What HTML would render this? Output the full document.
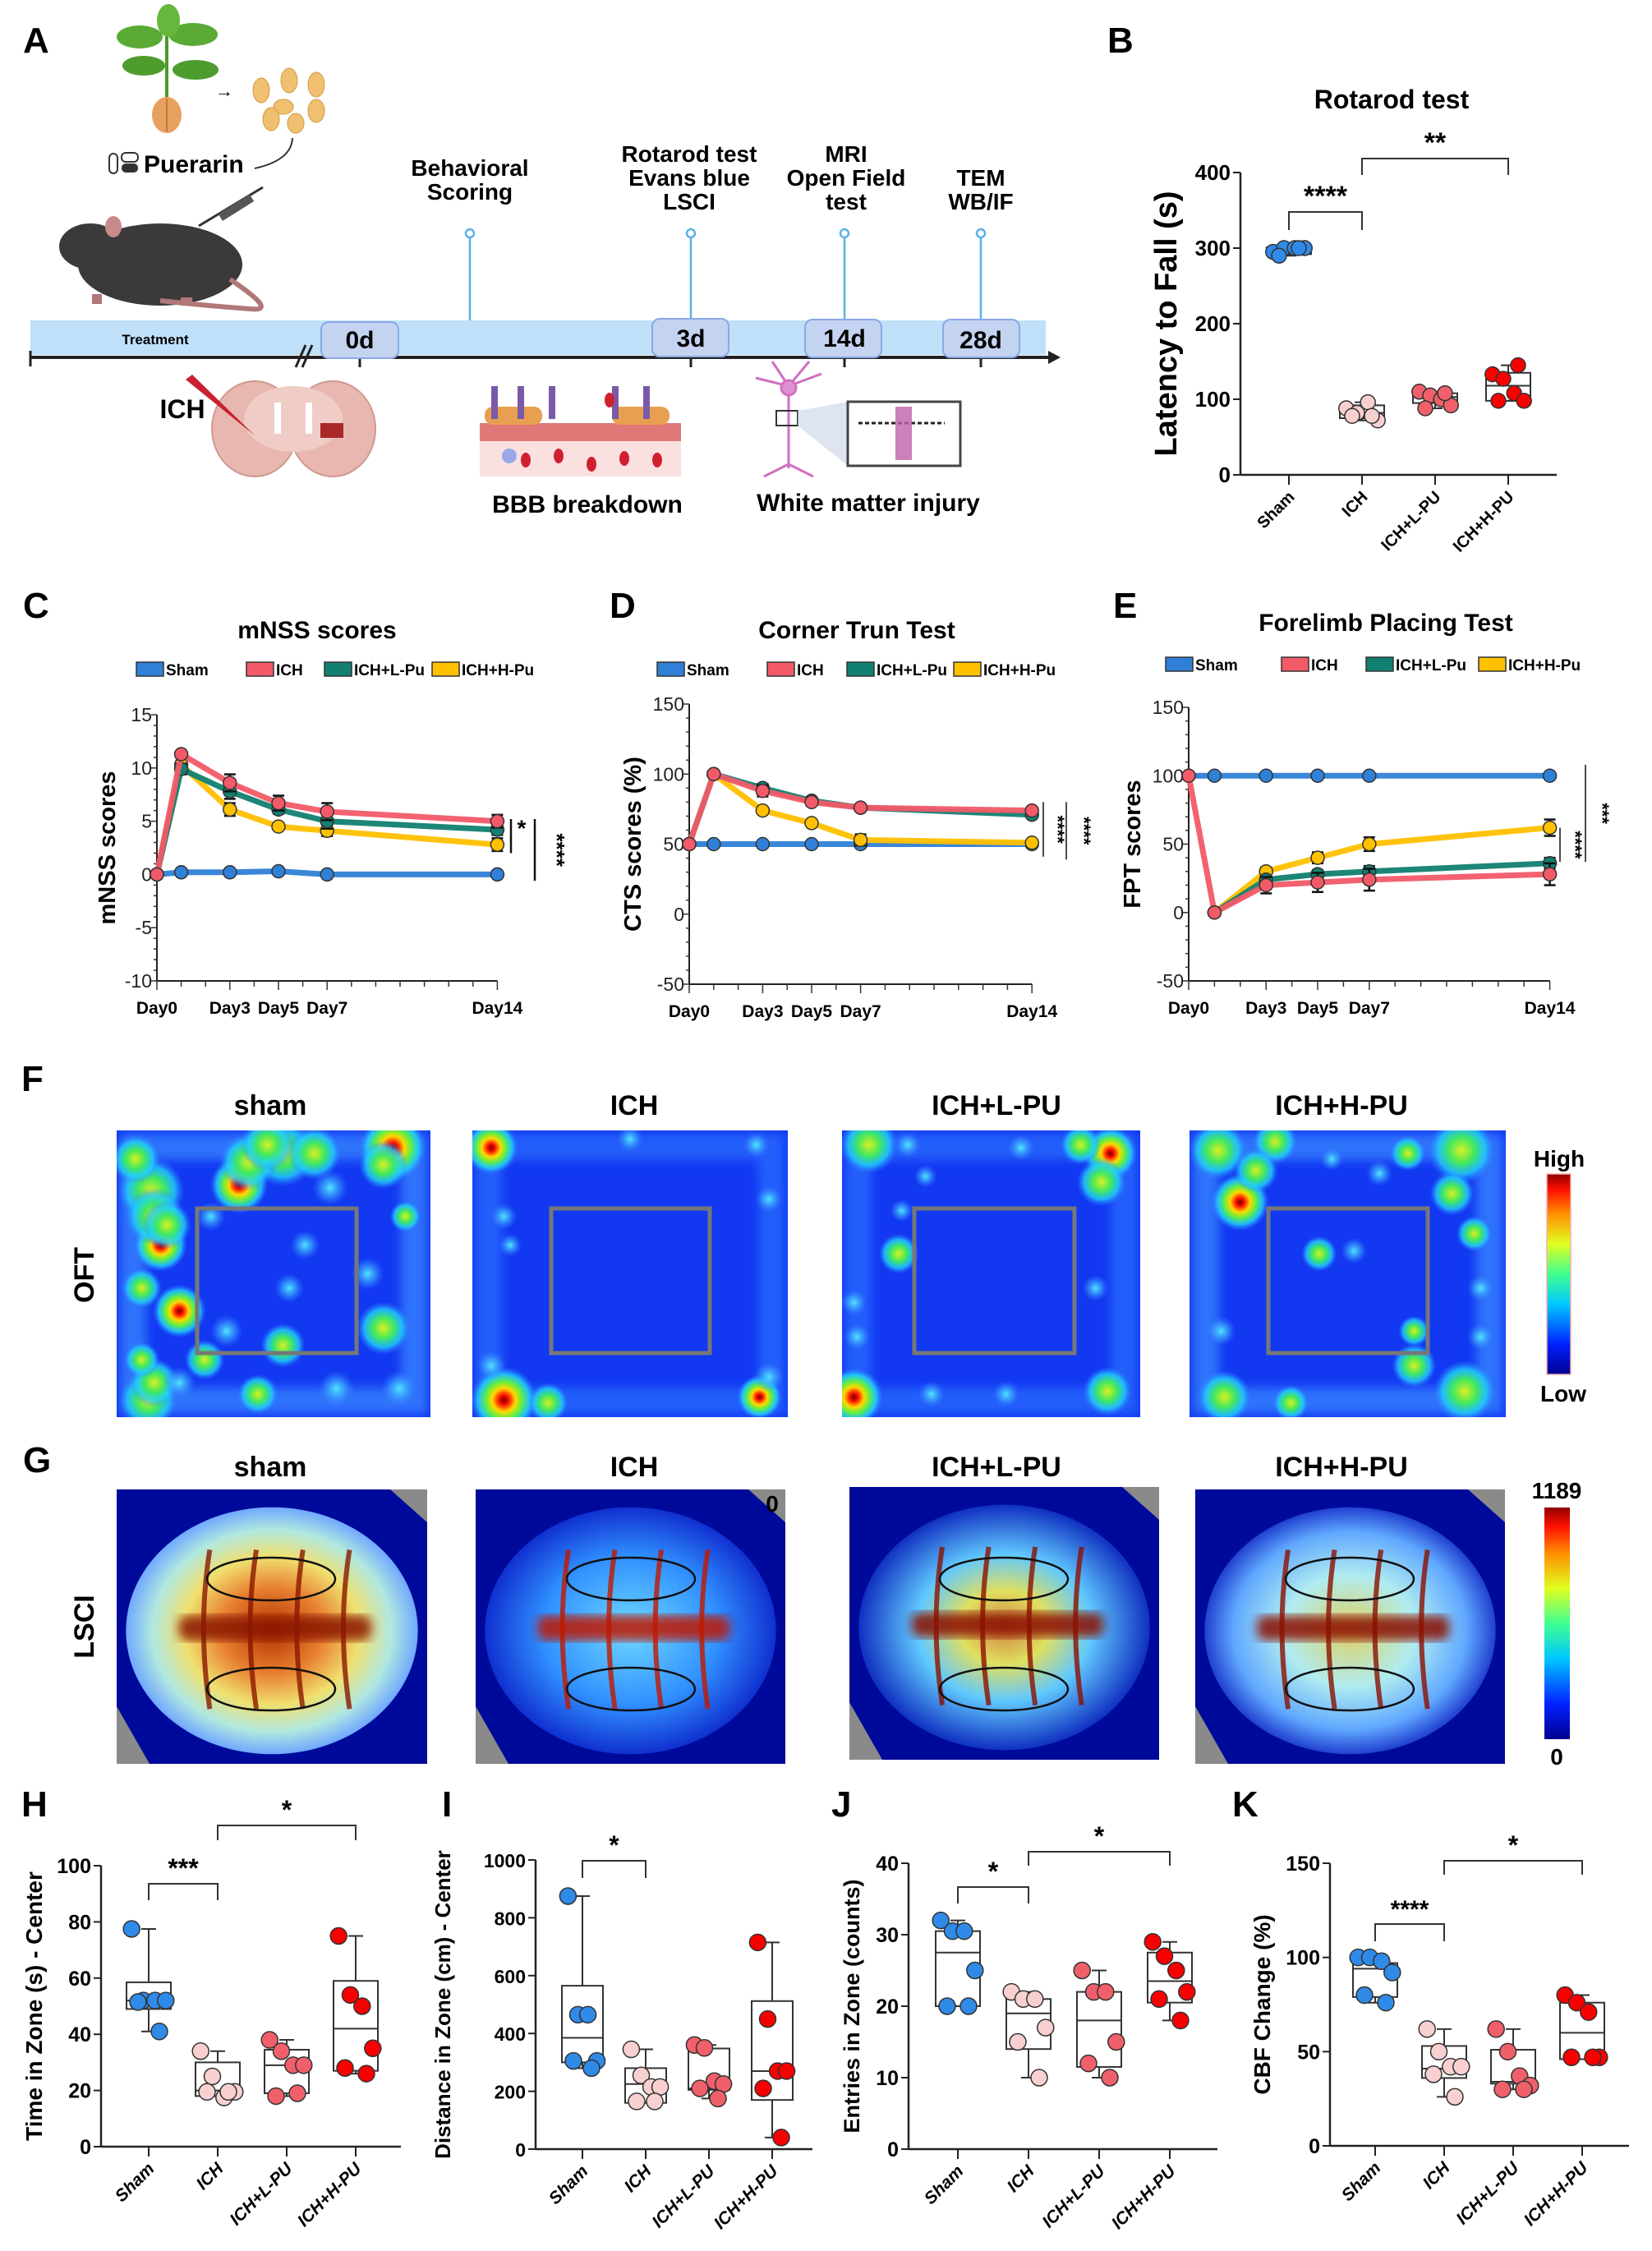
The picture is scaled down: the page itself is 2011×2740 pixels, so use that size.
<!DOCTYPE html>
<html><head><meta charset="utf-8"><title>Puerarin ICH figure</title>
<style>
html,body{margin:0;padding:0;background:#fff;}
svg{display:block;}
.lbl{font-family:"Liberation Sans",Arial,sans-serif;font-weight:bold;font-size:44px;fill:#000;}
.nar{font-family:"Liberation Sans Narrow","Liberation Sans",sans-serif;font-weight:bold;fill:#000;}
.b{font-family:"Liberation Sans",Arial,sans-serif;font-weight:bold;fill:#000;}
</style></head>
<body>
<svg id="fig" xmlns="http://www.w3.org/2000/svg" width="2011" height="2740" viewBox="0 0 2011 2740">
<defs id="defs">
<radialGradient id="hot"><stop offset="0" stop-color="#700000"/><stop offset="0.15" stop-color="#ff1000"/><stop offset="0.35" stop-color="#ffd800"/><stop offset="0.55" stop-color="#60f040"/><stop offset="0.78" stop-color="#20d8ff" stop-opacity="0.8"/><stop offset="1" stop-color="#3080ff" stop-opacity="0"/></radialGradient>
<radialGradient id="warm"><stop offset="0" stop-color="#d8f020"/><stop offset="0.4" stop-color="#40e860"/><stop offset="0.72" stop-color="#20d0ff" stop-opacity="0.8"/><stop offset="1" stop-color="#3080ff" stop-opacity="0"/></radialGradient>
<radialGradient id="cool"><stop offset="0" stop-color="#50e8ff"/><stop offset="0.5" stop-color="#40b0ff" stop-opacity="0.6"/><stop offset="1" stop-color="#3080ff" stop-opacity="0"/></radialGradient>
<linearGradient id="jet" x1="0" y1="1" x2="0" y2="0"><stop offset="0" stop-color="#00008f"/><stop offset="0.15" stop-color="#0020ff"/><stop offset="0.35" stop-color="#00c8ff"/><stop offset="0.5" stop-color="#40ff90"/><stop offset="0.65" stop-color="#e0ff20"/><stop offset="0.8" stop-color="#ff9000"/><stop offset="0.92" stop-color="#ff1000"/><stop offset="1" stop-color="#900000"/></linearGradient>
<radialGradient id="lsciSham"><stop offset="0" stop-color="#b03000"/><stop offset="0.35" stop-color="#e88030"/><stop offset="0.6" stop-color="#f0e070"/><stop offset="0.82" stop-color="#b0e8e0"/><stop offset="1" stop-color="#70a8ff"/></radialGradient>
<radialGradient id="lsciIch"><stop offset="0" stop-color="#70d8ff"/><stop offset="0.6" stop-color="#3090ff"/><stop offset="1" stop-color="#1030d0"/></radialGradient>
<radialGradient id="lsciL"><stop offset="0" stop-color="#d08040"/><stop offset="0.3" stop-color="#e0e060"/><stop offset="0.6" stop-color="#60c8ff"/><stop offset="1" stop-color="#1030c0"/></radialGradient>
<radialGradient id="lsciH"><stop offset="0" stop-color="#e0d060"/><stop offset="0.45" stop-color="#b0ecf0"/><stop offset="0.8" stop-color="#60a8ff"/><stop offset="1" stop-color="#2040d0"/></radialGradient>
<filter id="blur"><feGaussianBlur stdDeviation="6"/></filter>
</defs>

<g>
<text class="lbl" x="28" y="64">A</text>
<g>
<line x1="203" y1="40" x2="203" y2="125" stroke="#4a9a2a" stroke-width="4"/>
<ellipse cx="170" cy="45" rx="28" ry="14" fill="#5aaa35"/><ellipse cx="235" cy="42" rx="30" ry="14" fill="#5aaa35"/>
<ellipse cx="175" cy="80" rx="26" ry="12" fill="#4f9c2e"/><ellipse cx="238" cy="85" rx="28" ry="12" fill="#4f9c2e"/>
<ellipse cx="205" cy="25" rx="14" ry="20" fill="#66b83c"/>
<ellipse cx="203" cy="140" rx="18" ry="22" fill="#e8a060"/><line x1="203" y1="120" x2="203" y2="160" stroke="#c07838" stroke-width="2"/>
<text x="262" y="118" font-size="22" font-family="Liberation Sans">→</text>
<ellipse cx="318" cy="110" rx="10" ry="15" fill="#f0c070" stroke="#d09a40"/><ellipse cx="352" cy="98" rx="10" ry="15" fill="#f0c070" stroke="#d09a40"/>
<ellipse cx="385" cy="103" rx="10" ry="15" fill="#f0c070" stroke="#d09a40"/><ellipse cx="345" cy="130" rx="12" ry="9" fill="#f0c070" stroke="#d09a40"/>
<ellipse cx="330" cy="145" rx="10" ry="14" fill="#f0c070" stroke="#d09a40"/><ellipse cx="385" cy="135" rx="10" ry="14" fill="#f0c070" stroke="#d09a40"/>
<ellipse cx="360" cy="150" rx="10" ry="12" fill="#f0c070" stroke="#d09a40"/>
<path d="M356 168 Q355 195 310 205" fill="none" stroke="#333" stroke-width="2"/>
</g>
<g>
<rect x="133" y="187" width="10" height="24" rx="5" fill="#fff" stroke="#333" stroke-width="2"/>
<rect x="148" y="186" width="20" height="11" rx="5" fill="#fff" stroke="#333" stroke-width="2"/>
<rect x="148" y="199" width="20" height="11" rx="5" fill="#333"/>
</g>
<text class="nar" x="175" y="210" font-size="30">Puerarin</text>
<g>
<line x1="242" y1="275" x2="320" y2="228" stroke="#333" stroke-width="3"/>
<rect x="265" y="248" width="45" height="10" fill="#555" transform="rotate(-32 287 253)"/>
</g>
<g>
<ellipse cx="195" cy="322" rx="100" ry="50" fill="#3a3a3a"/>
<ellipse cx="110" cy="300" rx="38" ry="28" fill="#3a3a3a"/>
<ellipse cx="138" cy="276" rx="10" ry="13" fill="#c88a8a"/>
<path d="M280 340 Q340 380 305 376 Q250 372 195 366" fill="none" stroke="#b07878" stroke-width="6"/>
<rect x="112" y="358" width="12" height="12" fill="#b07878"/><rect x="220" y="362" width="14" height="10" fill="#b07878"/>
</g>
<g>
<rect x="37" y="390" width="1236" height="42" fill="#bfe0f8"/>
<line x1="37" y1="435" x2="1278" y2="435" stroke="#222" stroke-width="4"/>
<polygon points="1276,427 1291,435 1276,443" fill="#222"/>
<line x1="37" y1="427" x2="37" y2="446" stroke="#222" stroke-width="3"/>
<line x1="360" y1="447" x2="372" y2="420" stroke="#222" stroke-width="3"/><line x1="368" y1="447" x2="380" y2="420" stroke="#222" stroke-width="3"/>
<text class="nar" x="189" y="419" font-size="17" text-anchor="middle">Treatment</text>
<line x1="572" y1="290" x2="572" y2="390" stroke="#5ab0e8" stroke-width="2.5"/><circle cx="572" cy="284" r="5" fill="#fff" stroke="#5ab0e8" stroke-width="2.5"/>
<line x1="841" y1="290" x2="841" y2="392" stroke="#5ab0e8" stroke-width="2.5"/><circle cx="841" cy="284" r="5" fill="#fff" stroke="#5ab0e8" stroke-width="2.5"/>
<line x1="1028" y1="290" x2="1028" y2="392" stroke="#5ab0e8" stroke-width="2.5"/><circle cx="1028" cy="284" r="5" fill="#fff" stroke="#5ab0e8" stroke-width="2.5"/>
<line x1="1194" y1="290" x2="1194" y2="392" stroke="#5ab0e8" stroke-width="2.5"/><circle cx="1194" cy="284" r="5" fill="#fff" stroke="#5ab0e8" stroke-width="2.5"/>
<line x1="438" y1="435" x2="438" y2="447" stroke="#222" stroke-width="3"/><line x1="841" y1="435" x2="841" y2="447" stroke="#222" stroke-width="3"/>
<line x1="1028" y1="435" x2="1028" y2="447" stroke="#222" stroke-width="3"/><line x1="1194" y1="435" x2="1194" y2="447" stroke="#222" stroke-width="3"/>
<g><rect x="391" y="392" width="94" height="44" rx="9" fill="#c4d4f0" stroke="#88a8e8" stroke-width="2"/><text class="nar" x="438" y="424" font-size="30" text-anchor="middle">0d</text></g>
<g><rect x="794" y="388" width="93" height="46" rx="9" fill="#c4d4f0" stroke="#88a8e8" stroke-width="2"/><text class="nar" x="841" y="422" font-size="30" text-anchor="middle">3d</text></g>
<g><rect x="980" y="389" width="93" height="46" rx="9" fill="#c4d4f0" stroke="#88a8e8" stroke-width="2"/><text class="nar" x="1028" y="422" font-size="30" text-anchor="middle">14d</text></g>
<g><rect x="1148" y="389" width="93" height="46" rx="9" fill="#c4d4f0" stroke="#88a8e8" stroke-width="2"/><text class="nar" x="1194" y="424" font-size="30" text-anchor="middle">28d</text></g>
</g>
<g class="nar" font-size="28" text-anchor="middle">
<text x="572" y="214">Behavioral</text><text x="572" y="243">Scoring</text>
<text x="839" y="197">Rotarod test</text><text x="839" y="226">Evans blue</text><text x="839" y="255">LSCI</text>
<text x="1030" y="197">MRI</text><text x="1030" y="226">Open Field</text><text x="1030" y="255">test</text>
<text x="1194" y="226">TEM</text><text x="1194" y="255">WB/IF</text>
</g>
<g>
<ellipse cx="310" cy="522" rx="52" ry="58" fill="#e8b8b0" stroke="#d09890" stroke-width="2"/>
<ellipse cx="405" cy="522" rx="52" ry="58" fill="#e8b8b0" stroke="#d09890" stroke-width="2"/>
<ellipse cx="357" cy="510" rx="60" ry="40" fill="#f0ccc6"/>
<rect x="334" y="490" width="8" height="38" fill="#fff"/><rect x="372" y="490" width="8" height="38" fill="#fff"/>
<rect x="390" y="515" width="28" height="18" fill="#a82828"/>
<polygon points="226,462 234,456 310,530" fill="#c82030"/>
<text class="nar" x="222" y="509" font-size="32" text-anchor="middle">ICH</text>
</g>
<g>
<rect x="584" y="520" width="245" height="60" fill="#fbe0e0"/>
<rect x="584" y="515" width="245" height="22" fill="#e07878"/>
<rect x="590" y="495" width="70" height="22" rx="10" fill="#e8a050"/><rect x="745" y="495" width="70" height="22" rx="10" fill="#e8a050"/>
<rect x="598" y="470" width="8" height="40" fill="#7a5aa8"/><rect x="630" y="470" width="8" height="40" fill="#7a5aa8"/><rect x="668" y="470" width="8" height="40" fill="#7a5aa8"/><rect x="745" y="470" width="8" height="40" fill="#7a5aa8"/><rect x="783" y="470" width="8" height="40" fill="#7a5aa8"/>
<circle cx="620" cy="555" r="9" fill="#9aa8e8"/><ellipse cx="640" cy="560" rx="6" ry="9" fill="#d02030"/><ellipse cx="680" cy="555" rx="6" ry="9" fill="#d02030"/><ellipse cx="720" cy="565" rx="6" ry="9" fill="#d02030"/><ellipse cx="760" cy="558" rx="6" ry="9" fill="#d02030"/><ellipse cx="800" cy="560" rx="6" ry="9" fill="#d02030"/><ellipse cx="742" cy="487" rx="6" ry="9" fill="#d02030"/>
</g>
<text class="nar" x="715" y="624" font-size="30" text-anchor="middle">BBB breakdown</text>
<g stroke="#d070c0" stroke-width="3" fill="none">
<line x1="960" y1="470" x2="960" y2="570"/><line x1="960" y1="470" x2="920" y2="460"/><line x1="960" y1="470" x2="1000" y2="455"/><line x1="960" y1="470" x2="940" y2="440"/><line x1="960" y1="470" x2="985" y2="440"/>
<line x1="960" y1="565" x2="930" y2="580"/><line x1="960" y1="565" x2="990" y2="580"/>
<circle cx="960" cy="472" r="9" fill="#e090d0"/>
<rect x="945" y="500" width="26" height="18" stroke="#333" stroke-width="2"/>
<polygon points="971,500 1032,489 1032,567 971,518" fill="#c8d4e8" stroke="none" opacity="0.6"/>
<rect x="1032" y="489" width="137" height="78" fill="#fff" stroke="#444" stroke-width="3"/>
<line x1="1045" y1="515" x2="1150" y2="515" stroke="#222" stroke-dasharray="5 3" stroke-width="3"/>
<rect x="1090" y="495" width="20" height="65" fill="#c060a8" stroke="none" opacity="0.8"/>
</g>
<text class="nar" x="1057" y="622" font-size="30" text-anchor="middle">White matter injury</text>
</g>

<text class="lbl" x="1348" y="64">B</text>
<text class="b" x="1694" y="132" font-size="32" text-anchor="middle" fill="#333">Rotarod test</text>
<text class="lbl" x="28" y="752">C</text>
<text class="lbl" x="742" y="752">D</text>
<text class="lbl" x="1355" y="752">E</text>
<text class="nar" x="386" y="777" font-size="30" text-anchor="middle">mNSS scores</text>
<text class="nar" x="1043" y="777" font-size="30" text-anchor="middle">Corner Trun Test</text>
<text class="nar" x="1687" y="768" font-size="30" text-anchor="middle">Forelimb Placing Test</text>

<text class="lbl" x="26" y="1328">F</text>
<text class="lbl" x="28" y="1792">G</text>
<g class="b" font-size="34" text-anchor="middle">
<text x="329" y="1357">sham</text><text x="772" y="1357">ICH</text><text x="1213" y="1357">ICH+L-PU</text><text x="1633" y="1357">ICH+H-PU</text>
<text x="329" y="1797">sham</text><text x="772" y="1797">ICH</text><text x="1213" y="1797">ICH+L-PU</text><text x="1633" y="1797">ICH+H-PU</text>
</g>
<text class="b" font-size="34" transform="translate(114 1552) rotate(-90)" text-anchor="middle">OFT</text>
<text class="b" font-size="34" transform="translate(114 1980) rotate(-90)" text-anchor="middle">LSCI</text>

<g id="heatmaps"></g>
<g id="lsci"></g>

<g>
<rect x="1883" y="1429" width="29" height="244" fill="url(#jet)" stroke="#f4b0b0" stroke-width="1.5"/>
<text class="b" x="1898" y="1420" font-size="28" text-anchor="middle">High</text>
<text class="b" x="1903" y="1706" font-size="28" text-anchor="middle">Low</text>
</g>
<g>
<rect x="1880" y="1835" width="31" height="282" fill="url(#jet)"/>
<text class="b" x="1895" y="1824" font-size="28" text-anchor="middle">1189</text>
<text class="b" x="1895" y="2148" font-size="28" text-anchor="middle">0</text>
</g>

<text class="lbl" x="26" y="2211">H</text>
<text class="lbl" x="538" y="2211">I</text>
<text class="lbl" x="1012" y="2211">J</text>
<text class="lbl" x="1500" y="2211">K</text>

<g id="charts"></g>
</svg>

<script>
const days = [0, 1, 3, 5, 7, 14];
const dayTickLabels = ["Day0", "Day3", "Day5", "Day7", "Day14"];
const dayTickValues = [0, 3, 5, 7, 14];
const seriesNames = ["Sham", "ICH", "ICH+L-Pu", "ICH+H-Pu"];

const mnssSham = [0, 0.2, 0.2, 0.3, 0, 0];
const mnssIch = [0, 11.3, 8.6, 6.7, 5.9, 5.0];
const mnssLpu = [0, 9.9, 7.8, 6.1, 5.0, 4.2];
const mnssHpu = [0, 10.3, 6.1, 4.5, 4.1, 2.8];
const mnssIchErr = [0, 0.3, 0.8, 0.7, 0.8, 0.6];
const mnssLpuErr = [0, 0.5, 0.7, 0.4, 0.7, 0.5];
const mnssHpuErr = [0, 0.4, 0.6, 0.2, 0.5, 0.6];
const mnssTicks = [-10, -5, 0, 5, 10, 15];

const ctsSham = [50, 50, 50, 50, 50, 50];
const ctsIch = [50, 100, 88, 80, 76, 74];
const ctsLpu = [50, 100, 90, 81, 76, 71];
const ctsHpu = [50, 100, 74, 65, 53, 51];
const ctsIchErr = [0, 0, 4, 2, 2, 2];
const ctsLpuErr = [0, 0, 3, 2, 2, 2];
const ctsHpuErr = [0, 0, 2, 2, 4, 2];
const ctsTicks = [-50, 0, 50, 100, 150];

const fptSham = [100, 100, 100, 100, 100, 100];
const fptIch = [100, 0, 20, 22, 24, 28];
const fptLpu = [null, 0, 24, 28, 30, 36];
const fptHpu = [null, 0, 30, 40, 50, 62];
const fptIchErr = [0, 0, 6, 7, 8, 8];
const fptLpuErr = [0, 0, 3, 3, 4, 4];
const fptHpuErr = [0, 0, 3, 4, 5, 6];
const fptTicks = [-50, 0, 50, 100, 150];

const groups = ["Sham", "ICH", "ICH+L-PU", "ICH+H-PU"];
const rotarodPoints = [[295, 300, 300, 300, 290, 300], [88, 82, 96, 72, 78, 78], [110, 105, 100, 92, 88, 108], [133, 127, 108, 98, 98, 145]];
const rotarodBox = [[292, 297, 301, 290, 302], [75, 82, 92, 72, 96], [95, 103, 108, 88, 110], [98, 118, 135, 98, 145]];
const rotarodTicks = [0, 100, 200, 300, 400];

const timePoints = [[77.5, 52, 52, 52, 51.5, 41], [34, 25, 17.5, 19.5, 19.5, 19.5], [38, 34, 29, 29, 18, 19], [75, 54, 50, 35, 28, 26]];
const timeBox = [[49, 52, 58.5, 41, 77.5], [18, 20, 30, 18, 34], [19, 29, 34.5, 18, 38], [27, 42, 59, 26, 75]];
const timeTicks = [0, 20, 40, 60, 80, 100];

const distPoints = [[875, 465, 465, 305, 305, 280], [345, 255, 215, 215, 165, 165], [360, 350, 235, 225, 210, 175], [715, 450, 270, 270, 210, 40]];
const distBox = [[300, 385, 565, 280, 875], [160, 225, 280, 160, 345], [205, 210, 348, 175, 360], [170, 270, 512, 40, 715]];
const distTicks = [0, 200, 400, 600, 800, 1000];

const entryPoints = [[32, 30.5, 30.5, 25, 20, 20], [22, 21, 21, 17, 15, 10], [25, 22, 22, 15, 12, 10], [29, 27, 25, 22, 21, 18]];
const entryBox = [[20, 27.5, 30.5, 20, 32], [14, 19, 21, 10, 22], [11.5, 18, 22, 10, 25], [20.5, 23.5, 27.5, 18, 29]];
const entryTicks = [0, 10, 20, 30, 40];

const cbfPoints = [[100, 100, 98, 92, 80, 76], [62, 50, 42, 42, 38, 26], [62, 50, 37, 32, 30, 30], [80, 76, 71, 47, 47, 47]];
const cbfBox = [[79, 94, 97, 76, 100], [36, 41, 53, 26, 62], [33, 34, 51, 30, 62], [46, 60, 76, 47, 80]];
const cbfTicks = [0, 50, 100, 150];

const NS = "http://www.w3.org/2000/svg";
const root = document.getElementById("charts");
function mk(parent, tag, attrs, name) {
  const el = document.createElementNS(NS, tag);
  for (const k in attrs) el.setAttribute(k, attrs[k]);
  
  
  parent.appendChild(el);
  return el;
}
function txt(parent, x, y, s, size, anchor, name, extra) {
  const el = mk(parent, "text", Object.assign({x: x, y: y, "font-size": size, "text-anchor": anchor || "middle"}, extra || {}), name);
  el.textContent = s;
  return el;
}

const lineColors = ["#2f80d6", "#f25a68", "#118070", "#ffc000"];
const narrow = {"font-family": "\"Liberation Sans Narrow\",\"Liberation Sans\",sans-serif", "font-weight": "bold"};
const bold = {"font-family": "\"Liberation Sans\",sans-serif", "font-weight": "bold"};

function lineChart(id, cfg) {
  const g = mk(root, "g", {}, id);
  const xs = d => cfg.x0 + d * cfg.dayW;
  const ys = v => cfg.yBot - (v - cfg.min) / (cfg.max - cfg.min) * (cfg.yBot - cfg.yTop);
  const xEnd = xs(14);
  const lg = mk(g, "g", {}, id + "-legend");
  cfg.legendX.forEach((lx, i) => {
    const e = mk(lg, "g", {}, "legend-entry-" + seriesNames[i].toLowerCase().replace(/\+/g, "-"));
    mk(e, "rect", {x: lx, y: cfg.legendY - 15, width: 33, height: 17, fill: lineColors[i], stroke: "#333", "stroke-width": 1.5}, "legend-swatch");
    txt(e, lx + 36, cfg.legendY + 1, seriesNames[i], 19, "start", "legend-text", narrow);
  });
  mk(g, "line", {x1: cfg.x0, y1: ys(cfg.max), x2: cfg.x0, y2: ys(cfg.min), stroke: "#222", "stroke-width": 2}, "y-axis");
  mk(g, "line", {x1: cfg.x0, y1: ys(cfg.min), x2: xEnd, y2: ys(cfg.min), stroke: "#222", "stroke-width": 2}, "x-axis");
  const step = cfg.ticks[1] - cfg.ticks[0];
  for (let v = cfg.min; v <= cfg.max + 1e-6; v += step / 5) {
    const major = cfg.ticks.some(t => Math.abs(t - v) < 1e-6);
    mk(g, "line", {x1: cfg.x0 - (major ? 7 : 4), y1: ys(v), x2: cfg.x0, y2: ys(v), stroke: "#333", "stroke-width": 1.5}, "y-tick");
  }
  cfg.ticks.forEach(t => txt(g, cfg.x0 - 6, ys(t) + 8, String(t), 23, "end", "y-tick-label", {"font-family": "\"Liberation Sans Narrow\",\"Liberation Sans\",sans-serif", fill: "#222"}));
  for (let d = 0; d <= 14; d++) {
    const major = dayTickValues.includes(d);
    mk(g, "line", {x1: xs(d), y1: ys(cfg.min), x2: xs(d), y2: ys(cfg.min) + (major ? 11 : 7), stroke: "#333", "stroke-width": 1.5}, "x-tick");
  }
  dayTickValues.forEach((d, i) => txt(g, xs(d), ys(cfg.min) + 40, dayTickLabels[i], 21, "middle", "x-tick-label", narrow));
  txt(g, 0, 0, cfg.yTitle, 29, "middle", "y-axis-title", Object.assign({transform: "translate(" + cfg.yTitleX + " " + ((ys(cfg.max) + ys(cfg.min)) / 2) + ") rotate(-90)"}, bold));
  const order = [0, 3, 2, 1];
  order.forEach(si => {
    const vals = cfg.series[si], errs = cfg.errs[si];
    const sg = mk(g, "g", {}, "series-" + seriesNames[si].toLowerCase().replace(/\+/g, "-"));
    let d = "";
    vals.forEach((v, i) => { if (v === null) return; d += (d ? "L" : "M") + xs(days[i]) + " " + ys(v); });
    mk(sg, "path", {d: d, fill: "none", stroke: lineColors[si], "stroke-width": 7, "stroke-linejoin": "round", opacity: 0.95}, "series-line");
    vals.forEach((v, i) => {
      if (v === null) return;
      const e = errs ? errs[i] : 0;
      if (e > 0) {
        mk(sg, "line", {x1: xs(days[i]), y1: ys(v + e), x2: xs(days[i]), y2: ys(v - e), stroke: "#111", "stroke-width": 2.5}, "error-bar");
        mk(sg, "line", {x1: xs(days[i]) - 7, y1: ys(v + e), x2: xs(days[i]) + 7, y2: ys(v + e), stroke: "#111", "stroke-width": 2.5}, "error-cap");
        mk(sg, "line", {x1: xs(days[i]) - 7, y1: ys(v - e), x2: xs(days[i]) + 7, y2: ys(v - e), stroke: "#111", "stroke-width": 2.5}, "error-cap");
      }
      mk(sg, "circle", {cx: xs(days[i]), cy: ys(v), r: 8, fill: lineColors[si], stroke: "#333", "stroke-width": 1.5}, "data-point");
    });
  });
  cfg.sig.forEach(s => {
    mk(g, "line", {x1: s.x, y1: ys(s.v1), x2: s.x, y2: ys(s.v2), stroke: "#111", "stroke-width": s.w}, "significance-line");
    txt(g, 0, 0, s.t, s.fs, "middle", "significance-stars", Object.assign({transform: "translate(" + (s.x + s.dx) + " " + ((ys(s.v1) + ys(s.v2)) / 2) + ") rotate(" + s.rot + ")"}, bold));
  });
}

lineChart("mnss-chart", {x0: 191, dayW: 29.6, min: -10, max: 15, yTop: 870, yBot: 1194, ticks: mnssTicks,
  series: [mnssSham, mnssIch, mnssLpu, mnssHpu], errs: [null, mnssIchErr, mnssLpuErr, mnssHpuErr],
  legendX: [166, 300, 395, 526], legendY: 821, yTitle: "mNSS scores", yTitleX: 140,
  sig: [{x: 622, v1: 5.2, v2: 2.0, w: 2.5, t: "*", fs: 28, dx: 13, rot: 0}, {x: 651, v1: 5.2, v2: -0.6, w: 2.5, t: "****", fs: 26, dx: 18, rot: 90}]});
lineChart("cts-chart", {x0: 839, dayW: 29.8, min: -50, max: 150, yTop: 857, yBot: 1198, ticks: ctsTicks,
  series: [ctsSham, ctsIch, ctsLpu, ctsHpu], errs: [null, ctsIchErr, ctsLpuErr, ctsHpuErr],
  legendX: [800, 934, 1031, 1161], legendY: 821, yTitle: "CTS scores  (%)", yTitleX: 780,
  sig: [{x: 1270, v1: 80, v2: 41, w: 1.5, t: "****", fs: 22, dx: 10, rot: 90}, {x: 1298, v1: 80, v2: 39, w: 1.5, t: "****", fs: 22, dx: 14, rot: 90}]});
lineChart("fpt-chart", {x0: 1447, dayW: 31.4, min: -50, max: 150, yTop: 861, yBot: 1194, ticks: fptTicks,
  series: [fptSham, fptIch, fptLpu, fptHpu], errs: [null, fptIchErr, fptLpuErr, fptHpuErr],
  legendX: [1419, 1560, 1663, 1800], legendY: 815, yTitle: "FPT scores", yTitleX: 1388,
  sig: [{x: 1899, v1: 62, v2: 37, w: 1.5, t: "****", fs: 22, dx: 11, rot: 90}, {x: 1930, v1: 108, v2: 37, w: 1.5, t: "***", fs: 22, dx: 13, rot: 90}]});

const boxFill = ["#2f8ae8", "#f9d0d0", "#f0606a", "#f80000"];
const jitter = [-16, -5, 6, 16, -10, 10];
function boxChart(id, cfg) {
  const g = mk(root, "g", {}, id);
  const ys = v => cfg.y0 - v / cfg.max * (cfg.y0 - cfg.yMax);
  const xc = i => cfg.ax + cfg.off + i * cfg.step;
  mk(g, "line", {x1: cfg.ax, y1: ys(cfg.max), x2: cfg.ax, y2: ys(0), stroke: "#222", "stroke-width": 2.5}, "y-axis");
  mk(g, "line", {x1: cfg.ax, y1: ys(0), x2: cfg.xEnd, y2: ys(0), stroke: "#222", "stroke-width": 2.5}, "x-axis");
  cfg.ticks.forEach(t => {
    mk(g, "line", {x1: cfg.ax - 9, y1: ys(t), x2: cfg.ax, y2: ys(t), stroke: "#222", "stroke-width": 2}, "y-tick");
    txt(g, cfg.ax - 12, ys(t) + 9, String(t), cfg.tfs, "end", "y-tick-label", cfg.tickFont);
  });
  groups.forEach((gn, i) => {
    mk(g, "line", {x1: xc(i), y1: ys(0), x2: xc(i), y2: ys(0) + 12, stroke: "#222", "stroke-width": 2}, "x-tick");
    txt(g, 0, 0, gn, cfg.cfs, "end", "x-tick-label", Object.assign({transform: "translate(" + (xc(i) + 8) + " " + (ys(0) + 28) + ") rotate(-45)", "font-style": cfg.italic ? "italic" : "normal"}, bold));
    const b = cfg.box[i];
    const bg = mk(g, "g", {}, "box-" + gn.toLowerCase().replace(/\+/g, "-"));
    const hw = cfg.bw / 2;
    mk(bg, "line", {x1: xc(i), y1: ys(b[4]), x2: xc(i), y2: ys(b[3]), stroke: "#333", "stroke-width": 2}, "whisker");
    mk(bg, "line", {x1: xc(i) - 9, y1: ys(b[4]), x2: xc(i) + 9, y2: ys(b[4]), stroke: "#333", "stroke-width": 2}, "whisker-cap");
    mk(bg, "line", {x1: xc(i) - 9, y1: ys(b[3]), x2: xc(i) + 9, y2: ys(b[3]), stroke: "#333", "stroke-width": 2}, "whisker-cap");
    mk(bg, "rect", {x: xc(i) - hw, y: ys(b[2]), width: cfg.bw, height: ys(b[0]) - ys(b[2]), fill: "#fff", stroke: "#333", "stroke-width": 2}, "box");
    mk(bg, "line", {x1: xc(i) - hw, y1: ys(b[1]), x2: xc(i) + hw, y2: ys(b[1]), stroke: "#333", "stroke-width": 2}, "median-line");
    cfg.points[i].forEach((v, k) => {
      mk(bg, "circle", {cx: xc(i) + jitter[k] * cfg.jit, cy: ys(v), r: cfg.r, fill: boxFill[i], stroke: "#333", "stroke-width": 1.5}, "data-point");
    });
  });
  txt(g, 0, 0, cfg.yTitle, cfg.yfs, "middle", "y-axis-title", Object.assign({transform: "translate(" + cfg.ytx + " " + ((ys(0) + ys(cfg.max)) / 2) + ") rotate(-90)"}, bold));
  cfg.sig.forEach(s => {
    const x1 = xc(s.a), x2 = xc(s.b);
    mk(g, "path", {d: "M" + x1 + " " + (s.y + s.h) + "V" + s.y + "H" + x2 + "V" + (s.y + s.h), fill: "none", stroke: "#333", "stroke-width": 2}, "significance-bracket");
    txt(g, (x1 + x2) / 2, s.y - 8, s.t, s.fs, "middle", "significance-stars", bold);
  });
}
boxChart("rotarod-chart", {ax: 1510, xEnd: 1895, y0: 578, yMax: 210, max: 400, off: 59, step: 89, ticks: rotarodTicks, tfs: 26, cfs: 20, italic: false,
  tickFont: bold, box: rotarodBox, points: rotarodPoints, bw: 54, r: 9, jit: 1.2, yTitle: "Latency to Fall (s)", yfs: 38, ytx: 1432,
  sig: [{a: 0, b: 1, y: 258, h: 22, t: "****", fs: 34}, {a: 1, b: 3, y: 193, h: 20, t: "**", fs: 34}]});
boxChart("time-in-zone-chart", {ax: 123, xEnd: 488, y0: 2613, yMax: 2271, max: 100, off: 58, step: 84, ticks: timeTicks, tfs: 25, cfs: 21, italic: true,
  tickFont: narrow, box: timeBox, points: timePoints, bw: 54, r: 10, jit: 1.3, yTitle: "Time in Zone (s) - Center", yfs: 28, ytx: 51,
  sig: [{a: 0, b: 1, y: 2293, h: 20, t: "***", fs: 32}, {a: 1, b: 3, y: 2222, h: 18, t: "*", fs: 32}]});
boxChart("distance-in-zone-chart", {ax: 652, xEnd: 989, y0: 2616, yMax: 2264, max: 1000, off: 57, step: 77, ticks: distTicks, tfs: 23, cfs: 21, italic: true,
  tickFont: narrow, box: distBox, points: distPoints, bw: 50, r: 10, jit: 1.1, yTitle: "Distance in Zone  (cm) - Center", yfs: 26, ytx: 548,
  sig: [{a: 0, b: 1, y: 2265, h: 21, t: "*", fs: 32}]});
boxChart("entries-in-zone-chart", {ax: 1106, xEnd: 1482, y0: 2616, yMax: 2268, max: 40, off: 60, step: 86, ticks: entryTicks, tfs: 25, cfs: 21, italic: true,
  tickFont: narrow, box: entryBox, points: entryPoints, bw: 54, r: 10, jit: 1.3, yTitle: "Entries in Zone  (counts)", yfs: 27, ytx: 1046,
  sig: [{a: 0, b: 1, y: 2297, h: 20, t: "*", fs: 32}, {a: 1, b: 3, y: 2254, h: 17, t: "*", fs: 32}]});
boxChart("cbf-change-chart", {ax: 1619, xEnd: 1983, y0: 2612, yMax: 2268, max: 150, off: 55, step: 84, ticks: cbfTicks, tfs: 25, cfs: 21, italic: true,
  tickFont: narrow, box: cbfBox, points: cbfPoints, bw: 54, r: 10, jit: 1.3, yTitle: "CBF Change (%)", yfs: 28, ytx: 1546,
  sig: [{a: 0, b: 1, y: 2342, h: 21, t: "****", fs: 30}, {a: 1, b: 3, y: 2265, h: 17, t: "*", fs: 32}]});

const hm = document.getElementById("heatmaps");
const defs = document.getElementById("defs");
const heatPanels = [
  {x: 142, y: 1376, w: 382, h: 349, ix: 240, iw: 194, name: "heatmap-sham", bright: 1,
   blobs: [[0.88,0.06,"hot",30],[0.39,0.19,"hot",26],[0.14,0.40,"hot",24],[0.20,0.63,"hot",24],[0.53,0.08,"warm",30],[0.42,0.11,"warm",26],[0.63,0.08,"warm",24],[0.48,0.05,"warm",24],[0.11,0.21,"warm",30],[0.06,0.10,"warm",22],[0.12,0.30,"warm",26],[0.16,0.33,"warm",22],[0.10,0.94,"warm",26],[0.12,0.88,"warm",22],[0.28,0.80,"warm",18],[0.53,0.75,"warm",20],[0.85,0.69,"warm",24],[0.45,0.92,"warm",18],[0.08,0.55,"warm",18],[0.08,0.80,"warm",16],[0.92,0.30,"warm",14],[0.68,0.20,"cool",22],[0.60,0.40,"cool",18],[0.35,0.70,"cool",20],[0.70,0.90,"cool",22],[0.90,0.90,"cool",22],[0.30,0.30,"cool",18],[0.80,0.50,"cool",20],[0.55,0.55,"cool",18],[0.20,0.88,"cool",20],[0.85,0.12,"warm",22]]},
  {x: 575, y: 1376, w: 384, h: 349, ix: 671, iw: 193, name: "heatmap-ich", bright: 0,
   blobs: [[0.06,0.06,"hot",24],[0.10,0.94,"hot",30],[0.91,0.93,"hot",20],[0.24,0.95,"warm",18],[0.10,0.30,"cool",16],[0.12,0.40,"cool",14],[0.94,0.24,"cool",16],[0.94,0.86,"cool",18],[0.50,0.03,"cool",16],[0.90,0.05,"cool",16],[0.06,0.82,"cool",18]]},
  {x: 1025, y: 1376, w: 363, h: 349, ix: 1113, iw: 195, name: "heatmap-ich-l-pu", bright: 0,
   blobs: [[0.90,0.08,"hot",24],[0.04,0.93,"hot",26],[0.09,0.05,"warm",26],[0.19,0.43,"warm",18],[0.89,0.91,"warm",22],[0.87,0.18,"warm",22],[0.80,0.05,"warm",18],[0.22,0.05,"cool",16],[0.60,0.06,"cool",16],[0.04,0.60,"cool",16],[0.05,0.72,"cool",16],[0.85,0.55,"cool",16],[0.55,0.92,"cool",16],[0.30,0.92,"cool",16],[0.20,0.28,"cool",14],[0.28,0.16,"cool",14]]},
  {x: 1448, y: 1376, w: 385, h: 349, ix: 1544, iw: 194, name: "heatmap-ich-h-pu", bright: 1,
   blobs: [[0.16,0.25,"hot",26],[0.09,0.07,"warm",26],[0.27,0.04,"warm",20],[0.21,0.14,"warm",20],[0.86,0.07,"warm",30],[0.83,0.22,"warm",20],[0.11,0.93,"warm",24],[0.71,0.82,"warm",20],[0.87,0.91,"warm",28],[0.69,0.08,"warm",16],[0.41,0.43,"warm",16],[0.32,0.95,"warm",16],[0.90,0.36,"warm",16],[0.71,0.70,"warm",14],[0.92,0.72,"cool",16],[0.52,0.42,"cool",16],[0.10,0.70,"cool",18],[0.60,0.15,"cool",16],[0.92,0.55,"cool",16],[0.45,0.10,"cool",14]]}
];
heatPanels.forEach((p, idx) => {
  const cp = mk(defs, "clipPath", {id: "hclip" + idx}, "heatmap-clip");
  mk(cp, "rect", {x: p.x, y: p.y, width: p.w, height: p.h}, "heatmap-clip-rect");
  const g = mk(hm, "g", {"clip-path": "url(#hclip" + idx + ")"}, p.name);
  mk(g, "rect", {x: p.x, y: p.y, width: p.w, height: p.h, fill: "#1238f2"}, "heatmap-background");
  mk(g, "rect", {x: p.x + 20, y: p.y + 20, width: p.w - 40, height: p.h - 40, fill: "none", stroke: p.bright ? "#3a8cff" : "#2a70ff", "stroke-width": 32, filter: "url(#blur)", opacity: 0.7}, "heatmap-edge-glow");
  p.blobs.forEach(b => {
    mk(g, "circle", {cx: p.x + b[0] * p.w, cy: p.y + b[1] * p.h, r: b[2] === "cool" ? b[3] : b[3] * 1.35, fill: "url(#" + b[2] + ")"}, "heatmap-hotspot");
  });
  mk(g, "rect", {x: p.ix, y: 1471, width: p.iw, height: 176, fill: "none", stroke: "#777", "stroke-width": 5}, "center-zone-square");
});

const ls = document.getElementById("lsci");
const lsciPanels = [
  {x: 142, y: 1813, w: 378, h: 334, cx: 330, grad: "lsciSham", name: "lsci-sham", streak: "#8a1800"},
  {x: 579, y: 1813, w: 377, h: 334, cx: 768, grad: "lsciIch", name: "lsci-ich", streak: "#c01800"},
  {x: 1034, y: 1810, w: 377, h: 332, cx: 1222, grad: "lsciL", name: "lsci-ich-l-pu", streak: "#8a1000"},
  {x: 1455, y: 1813, w: 377, h: 334, cx: 1643, grad: "lsciH", name: "lsci-ich-h-pu", streak: "#8a1000"}
];
lsciPanels.forEach(p => {
  const g = mk(ls, "g", {}, p.name);
  mk(g, "rect", {x: p.x, y: p.y, width: p.w, height: p.h, fill: "#000a9a"}, "lsci-background");
  mk(g, "path", {d: "M" + p.x + " " + (p.y + p.h) + "l0 -70 l40 70z", fill: "#8a8a8a"}, "lsci-gray-corner");
  mk(g, "path", {d: "M" + (p.x + p.w) + " " + p.y + "l-45 0 l45 40z", fill: "#8a8a8a"}, "lsci-gray-corner");
  mk(g, "ellipse", {cx: p.x + p.w / 2, cy: p.y + p.h / 2 + 5, rx: p.w * 0.47, ry: p.h * 0.45, fill: "url(#" + p.grad + ")"}, "lsci-brain");
  mk(g, "rect", {x: p.x + p.w * 0.2, y: p.y + p.h * 0.46, width: p.w * 0.62, height: p.h * 0.09, rx: 10, fill: p.streak, opacity: 0.85, filter: "url(#blur)"}, "lsci-sinus");
  [0.3, 0.45, 0.6, 0.75].forEach(f => {
    mk(g, "path", {d: "M" + (p.x + p.w * f) + " " + (p.y + p.h * 0.22) + " Q" + (p.x + p.w * (f - 0.04)) + " " + (p.y + p.h * 0.5) + " " + (p.x + p.w * f) + " " + (p.y + p.h * 0.8), fill: "none", stroke: p.streak, "stroke-width": 6, opacity: 0.8}, "lsci-vessel");
  });
  mk(g, "ellipse", {cx: p.cx, cy: 1922, rx: 78, ry: 26, fill: "none", stroke: "#111", "stroke-width": 2.5}, "roi-ellipse-top");
  mk(g, "ellipse", {cx: p.cx, cy: 2056, rx: 78, ry: 26, fill: "none", stroke: "#111", "stroke-width": 2.5}, "roi-ellipse-bottom");
});
txt(ls, 940, 1840, "0", 28, "middle", "lsci-scale-zero", bold);
</script>
</body></html>
